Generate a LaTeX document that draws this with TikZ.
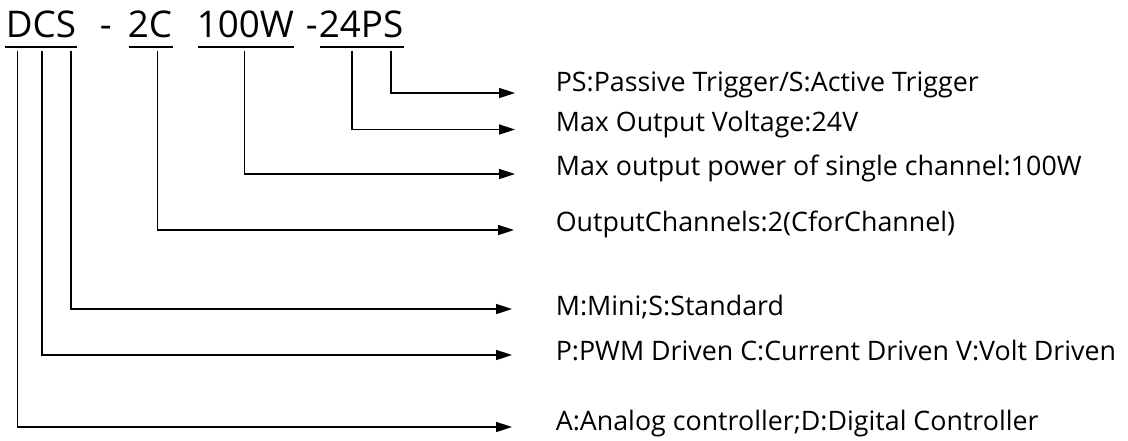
\documentclass[tikz,border=0pt]{standalone}
\usepackage{fontspec}
\setmainfont{Open Sans}
\usetikzlibrary{arrows.meta}

\begin{document}
\begin{tikzpicture}[x=0.75pt, y=-0.75pt, line width=1.2pt,
  code/.style={anchor=base west, inner sep=0pt, font=\fontsize{27.6}{30}\selectfont},
  lbl/.style={anchor=base west, inner sep=0pt, font=\fontsize{20.1}{23}\selectfont},
  arr/.style={-{Triangle[length=12pt, width=7.5pt]}}]
\useasboundingbox (0,0) rectangle (1128,440);
\node[code] (dcs) at (5,37.7){DCS};
\node[code] (dashA) at (99,37.7){-};
\node[code] (twoc) at (127,37.7){2C};
\node[code] (pwr) at (196,37.7){100W};
\node[code] (dashB) at (305,37.7){-};
\node[code] (volt) at (318,37.7){24PS};
\draw (5,46.7) -- (77,46.7);
\draw (129,46.7) -- (173,46.7);
\draw (198,46.7) -- (294,46.7);
\draw (320,46.7) -- (404,46.7);
\coordinate (sD) at (17.3,50.7);
\coordinate (sC) at (41.7,50.7);
\coordinate (sS) at (70.7,50.7);
\coordinate (s2C) at (157.3,50.7);
\coordinate (sW) at (244.3,50.7);
\coordinate (sV) at (351.7,50.7);
\coordinate (sPS) at (390.7,50.7);
\coordinate (eD) at (512,427);
\coordinate (eC) at (512,355);
\coordinate (eS) at (512,309);
\coordinate (e2C) at (514,230);
\coordinate (eW) at (515,174);
\coordinate (eV) at (515,129.5);
\coordinate (ePS) at (515,93);
\node[lbl] (lPS) at (555,91.5){PS:Passive Trigger/S:Active Trigger};
\node[lbl] (lV) at (555,131.5){Max Output Voltage:24V};
\node[lbl] (lW) at (555,175.5){Max output power of single channel:100W};
\node[lbl] (l2C) at (555,231.5){OutputChannels:2(CforChannel)};
\node[lbl] (lS) at (555,315){M:Mini;S:Standard};
\node[lbl] (lC) at (555,360){P:PWM Driven C:Current Driven V:Volt Driven};
\node[lbl] (lD) at (555,430){A:Analog controller;D:Digital Controller};
\draw[arr] (sPS) |- (ePS);
\draw[arr] (sV) |- (eV);
\draw[arr] (sW) |- (eW);
\draw[arr] (s2C) |- (e2C);
\draw[arr] (sS) |- (eS);
\draw[arr] (sC) |- (eC);
\draw[arr] (sD) |- (eD);
\end{tikzpicture}
\end{document}
